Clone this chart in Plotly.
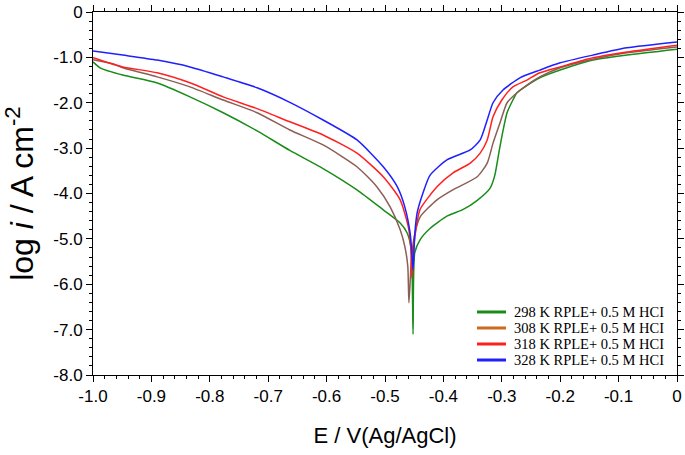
import plotly.graph_objects as go

# 298 K
E_298 = [-1.0, -0.988, -0.949, -0.891, -0.834, -0.777, -0.719, -0.663, -0.606, -0.548, -0.503, -0.474,
         -0.462, -0.455, -0.452, -0.449, -0.440, -0.423, -0.394, -0.366, -0.342, -0.320, -0.312, -0.305, -0.300,
         -0.291, -0.281, -0.274, -0.257, -0.235, -0.200, -0.144, -0.086, 0.0]
L_298 = [-1.10, -1.23, -1.39, -1.56, -1.87, -2.22, -2.62, -3.05, -3.45, -3.92, -4.36, -4.65,
         -4.87, -5.24, -7.10, -5.30, -5.02, -4.77, -4.50, -4.35, -4.15, -3.88, -3.60, -3.10, -2.75,
         -2.22, -1.94, -1.78, -1.62, -1.45, -1.28, -1.06, -0.95, -0.82]

# 308 K
E_308 = [-1.0, -0.966, -0.949, -0.890, -0.834, -0.777, -0.719, -0.663, -0.606, -0.548, -0.514, -0.491, -0.474,
         -0.466, -0.461, -0.459, -0.455, -0.450, -0.440, -0.411, -0.384, -0.342, -0.325, -0.315, -0.303, -0.291,
         -0.274, -0.257, -0.235, -0.200, -0.144, -0.086, 0.0]
L_308 = [-1.05, -1.14, -1.23, -1.43, -1.65, -1.94, -2.22, -2.60, -2.93, -3.41, -3.85, -4.30, -4.80,
         -5.17, -5.60, -6.41, -5.50, -4.95, -4.52, -4.14, -3.92, -3.63, -3.33, -2.89, -2.44, -2.00,
         -1.78, -1.61, -1.43, -1.23, -1.04, -0.90, -0.77]

# 318 K
E_318 = [-1.0, -0.983, -0.949, -0.890, -0.834, -0.777, -0.719, -0.663, -0.606, -0.548, -0.503, -0.474, -0.460,
         -0.456, -0.454, -0.451, -0.446, -0.440, -0.411, -0.384, -0.354, -0.337, -0.325, -0.315, -0.300, -0.281,
         -0.257, -0.235, -0.200, -0.144, -0.086, 0.0]
L_318 = [-1.01, -1.08, -1.21, -1.34, -1.56, -1.87, -2.13, -2.42, -2.71, -3.11, -3.63, -4.14, -4.74,
         -5.17, -5.86, -5.20, -4.70, -4.35, -3.85, -3.55, -3.33, -3.11, -2.82, -2.31, -1.94, -1.65,
         -1.50, -1.34, -1.21, -1.01, -0.88, -0.73]

# 328 K
E_328 = [-1.0, -0.949, -0.890, -0.834, -0.777, -0.719, -0.663, -0.606, -0.548, -0.503, -0.479, -0.466, -0.457,
         -0.454, -0.452, -0.449, -0.445, -0.435, -0.423, -0.394, -0.354, -0.337, -0.325, -0.315, -0.298, -0.269,
         -0.235, -0.200, -0.144, -0.086, 0.0]
L_328 = [-0.86, -0.95, -1.06, -1.21, -1.43, -1.67, -1.99, -2.38, -2.82, -3.41, -3.85, -4.30, -4.87,
         -5.30, -5.68, -4.90, -4.43, -3.99, -3.60, -3.26, -3.04, -2.82, -2.38, -2.00, -1.72, -1.45,
         -1.28, -1.12, -0.95, -0.79, -0.66]

series_names = ["298 K RPLE+ 0.5 M HCI", "308 K RPLE+ 0.5 M HCI", "318 K RPLE+ 0.5 M HCI", "328 K RPLE+ 0.5 M HCI"]
line_colors = ["#1A8C1A", "#8C5E55", "#FF2020", "#2020FF"]
legend_colors = ["#1A8C1A", "#CC6A1E", "#FF2020", "#2020FF"]

x_tickvals = [-1.0, -0.9, -0.8, -0.7, -0.6, -0.5, -0.4, -0.3, -0.2, -0.1, 0.0]
x_ticktext = ["-1.0", "-0.9", "-0.8", "-0.7", "-0.6", "-0.5", "-0.4", "-0.3", "-0.2", "-0.1", "0"]
y_tickvals = [0, -1, -2, -3, -4, -5, -6, -7, -8]
y_ticktext = ["0", "-1.0", "-2.0", "-3.0", "-4.0", "-5.0", "-6.0", "-7.0", "-8.0"]

data = [(E_298, L_298), (E_308, L_308), (E_318, L_318), (E_328, L_328)]

fig = go.Figure()
for (ex, ly), c, nm in zip(data, line_colors, series_names):
    fig.add_trace(go.Scatter(x=ex, y=ly, mode="lines", name=nm, showlegend=False,
                             line=dict(color=c, width=1.5, shape="spline", smoothing=0.6)))

sans = "Liberation Sans, Arial, sans-serif"
tickfont = dict(family=sans, size=17, color="black")
axis_common = dict(showline=True, linecolor="black", linewidth=1, mirror="ticks", ticks="outside",
                   ticklen=6, tickcolor="black", showgrid=False, zeroline=False, tickfont=tickfont,
                   automargin=False)

# hand-made legend (rows 16 px apart, as in the reference)
leg_x0, leg_x1, leg_tx = 0.6575, 0.7072, 0.7175
leg_rows = [0.1736, 0.1295, 0.0854, 0.0413]
shapes, annotations = [], []
for nm, c, yy in zip(series_names, legend_colors, leg_rows):
    shapes.append(dict(type="line", xref="paper", yref="paper", x0=leg_x0, x1=leg_x1, y0=yy, y1=yy,
                       line=dict(color=c, width=3)))
    annotations.append(dict(xref="paper", yref="paper", x=leg_tx, y=yy, xanchor="left", yanchor="middle",
                            text=nm, showarrow=False,
                            font=dict(family="Liberation Serif, Times New Roman, serif", size=14.5, color="black")))

fig.update_layout(
    width=685, height=455,
    margin=dict(l=93, r=8, t=12, b=80),
    paper_bgcolor="white", plot_bgcolor="white",
    showlegend=False,
    xaxis=dict(range=[-1.0, 0.0], tickvals=x_tickvals, ticktext=x_ticktext,
               minor=dict(ticks="outside", ticklen=3, dtick=0.02, tick0=0, tickcolor="black", showgrid=False),
               title=dict(text="E / V(Ag/AgCl)", standoff=22,
                          font=dict(family=sans, size=22, color="black")),
               **axis_common),
    yaxis=dict(range=[-8.0, 0.0], tickvals=y_tickvals, ticktext=y_ticktext,
               minor=dict(ticks="outside", ticklen=3, dtick=0.2, tick0=0, tickcolor="black", showgrid=False),
               title=dict(text="log <i>i</i> / A cm<sup>-2</sup>", standoff=12,
                          font=dict(family=sans, size=32, color="black")),
               **axis_common),
    shapes=shapes,
    annotations=annotations,
)

fig.write_html("out.html", config={"displayModeBar": False},
               post_script="document.body.style.margin='0';document.body.style.overflow='hidden';")
